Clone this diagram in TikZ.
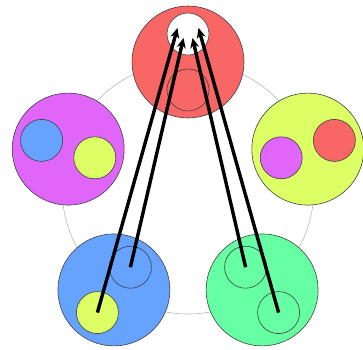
\documentclass[tikz,border=0pt]{standalone}
\usetikzlibrary{arrows.meta}
\definecolor{cred}{HTML}{F86666}
\definecolor{cyel}{HTML}{DDFF66}
\definecolor{cgrn}{HTML}{66FFA3}
\definecolor{cblu}{HTML}{66A3FF}
\definecolor{cmag}{HTML}{E066FA}
\tikzset{
  bigc/.style={circle, draw=black!75, line width=0.6pt, minimum size=112pt, inner sep=0pt},
  smallc/.style={circle, draw=black!75, line width=0.6pt, minimum size=42pt, inner sep=0pt},
  arr/.style={line width=3.4pt, -{Stealth[length=10pt,width=9pt]}},
  ring/.style={draw=black!28, line width=0.6pt}
}
\begin{document}
\begin{tikzpicture}[x=1pt,y=-1pt]
\useasboundingbox (0,0) rectangle (363,349);
\coordinate (ctr) at (188,188);
\draw[ring] (ctr) circle[radius=126];
% big circles
\node[bigc, fill=cred] (T)  at (188,62) {};
\node[bigc, fill=cmag] (L)  at (68.2,149.1) {};
\node[bigc, fill=cyel] (R)  at (307.8,149.1) {};
\node[bigc, fill=cblu] (BL) at (113.9,289.9) {};
\node[bigc, fill=cgrn] (BR) at (262.1,289.9) {};
% inner circles
\node[smallc, fill=white] (To) at (188,34) {};
\node[smallc] (Ti) at (188,90) {};
\node[smallc, fill=cblu] (Lo) at (41.6,140.4) {};
\node[smallc, fill=cyel] (Li) at (94.8,157.8) {};
\node[smallc, fill=cred] (Ro) at (334.4,140.4) {};
\node[smallc, fill=cmag] (Ri) at (281.2,157.8) {};
\node[smallc, fill=cyel] (BLo) at (97.4,312.6) {};
\node[smallc] (BLi) at (130.4,267.2) {};
\node[smallc] (BRo) at (278.6,312.6) {};
\node[smallc] (BRi) at (245.6,267.2) {};
% arrow targets
\coordinate (t1) at (177.5,28);
\coordinate (t2) at (183.5,38);
\coordinate (t3) at (192.5,38);
\coordinate (t4) at (198.5,28);
\draw[arr] (BLo.center) -- (t1);
\draw[arr] (BLi.center) -- (t2);
\draw[arr] (BRi.center) -- (t3);
\draw[arr] (BRo.center) -- (t4);
\end{tikzpicture}
\end{document}
